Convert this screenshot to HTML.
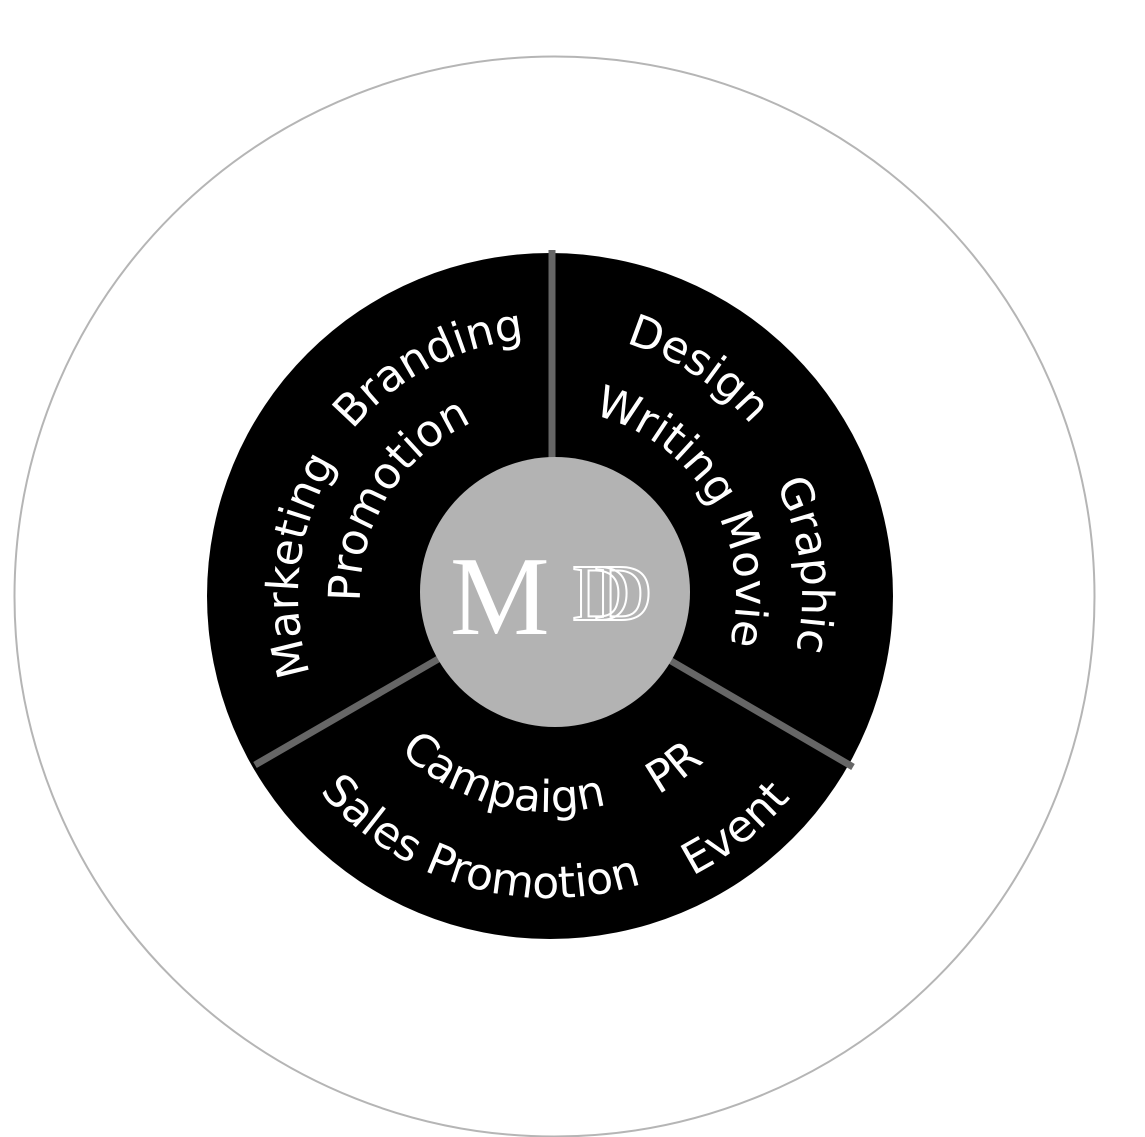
<!DOCTYPE html>
<html><head><meta charset="utf-8"><style>
html,body{margin:0;padding:0;background:#fff;}
svg{display:block;}
.t{font-family:"DejaVu Sans","Liberation Sans",sans-serif;font-size:44px;fill:#fff;}
</style></head><body>
<svg width="1145" height="1137" viewBox="0 0 1145 1137">
<defs>
<path id="c190" d="M740,596 A190,190 0 1 1 360,596 A190,190 0 1 1 740,596"/>
<path id="c252" d="M802,596 A252,252 0 1 1 298,596 A252,252 0 1 1 802,596"/>
<path id="c258" d="M808,596 A258,258 0 1 1 292,596 A258,258 0 1 1 808,596"/>
<!-- clockwise circles starting at left (180deg) -->
<path id="L186" d="M364,596 A186,186 0 1 1 736,596 A186,186 0 1 1 364,596"/>
<path id="L252" d="M298,596 A252,252 0 1 1 802,596 A252,252 0 1 1 298,596"/>
<path id="L264" d="M286,596 A264,264 0 1 1 814,596 A264,264 0 1 1 286,596"/>
<!-- counterclockwise from left through bottom -->
<path id="a216" d="M334,596 A216,216 0 1 0 766,596 A216,216 0 1 0 334,596"/>
<path id="a226" d="M324,596 A226,226 0 1 0 776,596 A226,226 0 1 0 324,596"/>
<path id="a302" d="M248,596 A302,302 0 1 0 852,596 A302,302 0 1 0 248,596"/>
<path id="a314" d="M236,596 A314,314 0 1 0 864,596 A314,314 0 1 0 236,596"/>
</defs>
<circle cx="554.5" cy="596.5" r="540" fill="#fff" stroke="#b5b5b5" stroke-width="2"/>
<circle cx="550" cy="596" r="343" fill="#000"/>
<g stroke="#666" stroke-width="7">
<line x1="552" y1="250" x2="552" y2="462"/>
<line x1="255" y1="765" x2="440" y2="658"/>
<line x1="853" y1="767" x2="666" y2="658"/>
</g>
<circle cx="555" cy="592" r="135" fill="#b3b3b3"/>
<text x="450" y="634" font-family="Liberation Serif,serif" font-size="112" fill="#fff">M</text>
<text x="572" y="620" font-family="Liberation Serif,serif" font-size="80" fill="none" stroke="#fff" stroke-width="2">D</text>
<text x="594" y="620" font-family="Liberation Serif,serif" font-size="80" fill="none" stroke="#fff" stroke-width="2">D</text>

<text class="t" text-anchor="middle"><textPath href="#c190" startOffset="703">Promotion</textPath></text>
<text class="t" text-anchor="middle"><textPath href="#c252" startOffset="822">Marketing</textPath></text>
<text class="t" text-anchor="middle"><textPath href="#c258" startOffset="1090">Branding</textPath></text>
<text class="t" text-anchor="middle"><textPath href="#L264" startOffset="567">Design</textPath></text>
<text class="t" text-anchor="middle"><textPath href="#L186" startOffset="414">Writing</textPath></text>
<text class="t" text-anchor="middle"><textPath href="#L252" startOffset="761">Graphic</textPath></text>
<text class="t" text-anchor="middle"><textPath href="#L186" startOffset="568">Movie</textPath></text>

<text class="t" text-anchor="middle"><textPath href="#a216" startOffset="285">Campaign</textPath></text>
<text class="t" text-anchor="middle"><textPath href="#a226" startOffset="496">PR</textPath></text>
<text class="t" text-anchor="middle"><textPath href="#a302" startOffset="390">Sales Promotion</textPath></text>
<text class="t" text-anchor="middle"><textPath href="#a314" startOffset="704">Event</textPath></text>
</svg>
</body></html>
